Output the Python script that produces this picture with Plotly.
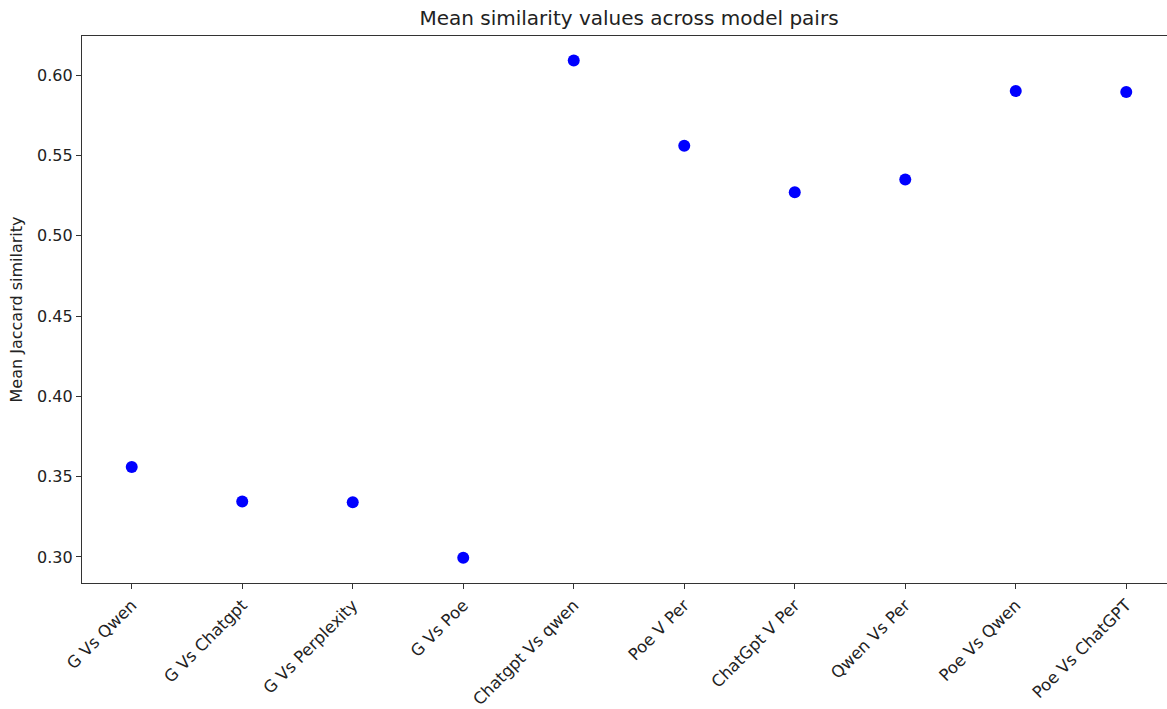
import plotly.graph_objects as go

pairs = ["G Vs Qwen", "G Vs Chatgpt", "G Vs Perplexity", "G Vs Poe", "Chatgpt Vs qwen",
         "Poe V Per", "ChatGpt V Per", "Qwen Vs Per", "Poe Vs Qwen", "Poe Vs ChatGPT"]
mean_jaccard = [0.356, 0.3345, 0.334, 0.2995, 0.609, 0.556, 0.527, 0.535, 0.590, 0.5895]
y_ticks = [0.30, 0.35, 0.40, 0.45, 0.50, 0.55, 0.60]

x_idx = list(range(len(pairs)))

fig = go.Figure(go.Scatter(
    x=x_idx, y=mean_jaccard, mode="markers",
    marker=dict(color="#0000ff", size=12),
))

font = "DejaVu Sans"
fig.update_layout(
    width=1176, height=709,
    margin=dict(l=82, r=0, t=36, b=126),
    paper_bgcolor="white", plot_bgcolor="white",
    showlegend=False,
    font=dict(family=font, size=15, color="#222"),
    title=dict(text="Mean similarity values across model pairs", x=0.5, xanchor="center",
               y=1 - 18 / 709, yanchor="middle", font=dict(family=font, size=20, color="#222"),
               xref="paper"),
    xaxis=dict(
        tickmode="array", tickvals=x_idx, ticktext=pairs, tickangle=-45,
        range=[-0.45, 9.45], showgrid=False, zeroline=False, automargin=False,
        showline=True, linecolor="#333", linewidth=1.2, mirror=True,
        ticks="outside", ticklen=5, tickcolor="#333",
        tickfont=dict(family=font, size=16.5, color="#222"),
    ),
    yaxis=dict(
        tickmode="array", tickvals=y_ticks, ticktext=[f"{v:.2f}" for v in y_ticks],
        range=[0.2838, 0.6243], showgrid=False, zeroline=False, automargin=False,
        showline=True, linecolor="#333", linewidth=1.2, mirror=False,
        ticks="outside", ticklen=5, tickcolor="#333",
        tickfont=dict(family=font, size=16, color="#222"),
        title=dict(text="Mean Jaccard similarity", font=dict(family=font, size=16, color="#222"),
                   standoff=10),
    ),
)

fig.write_html(
    "out.html",
    config={"displayModeBar": False},
    post_script="document.body.style.margin='0';document.body.style.overflow='hidden';",
)
